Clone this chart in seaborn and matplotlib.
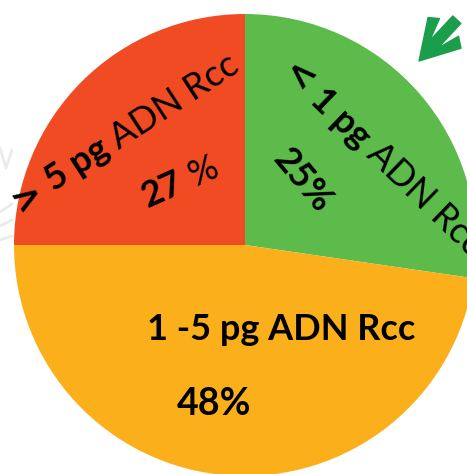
import numpy as np
import matplotlib
matplotlib.use("Agg")
import matplotlib.pyplot as plt
from matplotlib.patches import Polygon
import seaborn as sns

# ---- data (clockwise from 12 o'clock) ----
categories = ["< 1 pg ADN Rcc", "1 -5 pg ADN Rcc", "> 5 pg ADN Rcc"]
labels_pct = ["25%", "48%", "27 %"]
slice_sizes = [27.3, 47.7, 25.0]          # angular shares as drawn
slice_colors = ["#5DBB4B", "#FBB01B", "#F04B23"]

sns.set_theme(style="white")
plt.rcParams["font.family"] = ["Lato", "DejaVu Sans"]

W, H = 467, 474
fig = plt.figure(figsize=(W / 100, H / 100), dpi=100)
ax = fig.add_axes([0, 0, 1, 1])
cx, cy, R = 245.0, 245.0, 231.0  # pixel centre (top-origin) and radius
ax.pie(slice_sizes, colors=slice_colors, startangle=90, counterclock=False,
       radius=1.0, wedgeprops=dict(linewidth=0))
ax.set_xlim((0 - cx) / R, (W - cx) / R)
ax.set_ylim((cy - H) / R, (cy - 0) / R)
ax.set_aspect("auto")
ax.axis("off")

renderer = fig.canvas.get_renderer()


def text_width(s, size, weight, family):
    t = fig.text(0, 0, s, fontsize=size, weight=weight, family=family)
    w = t.get_window_extent(renderer).width
    t.remove()
    return w


def rich(x, y, parts, angle, size):
    """x,y pixels from top-left, baseline start; parts: (text, weight[, family])."""
    px, py = x, H - y
    a = np.deg2rad(angle)
    fam0 = ["Lato", "DejaVu Sans"]
    sp = text_width("a a", size, "normal", fam0) - text_width("aa", size, "normal", fam0)
    for i, part in enumerate(parts):
        s, wgt = part[0], part[1]
        fam = part[2] if len(part) > 2 else fam0
        fig.text(px / W, py / H, s, fontsize=size, weight=wgt, rotation=angle,
                 family=fam, rotation_mode="anchor", ha="left", va="baseline",
                 color="black")
        w = text_width(s, size, wgt, fam)
        if i < len(parts) - 1:
            w += sp
        px += w * np.cos(a)
        py += w * np.sin(a)


SYM = ["DejaVu Sans"]
# > 5 pg ADN Rcc (red)
rich(20, 214, [(">", "bold", SYM), ("5 pg", "bold"), ("ADN Rcc", "normal")], 33, 26)
# 27 %
rich(148, 208, [("27", "bold"), ("%", "normal")], 24, 26)
# < 1 pg ADN Rcc (green)
rich(280, 74, [("<", "bold", SYM), ("1 pg", "bold"), ("ADN Rcc", "normal")], -44, 26)
# 25%
rich(272, 160, [("25%", "bold")], -50, 26)
# 1 -5 pg ADN Rcc (orange)
rich(147, 340, [("1 -5 pg ADN Rcc", "bold")], 0, 26)
# 48%
rich(177, 415, [("48%", "bold")], 0, 27)

# decorative green arrow (top right), drawn in pixel space
tip = np.array([419.0, 61.0])
ang = np.deg2rad(-47)                 # axis from tip toward tail (screen, y down)
u = np.array([np.cos(ang), np.sin(ang)])
v = np.array([-u[1], u[0]])
local = [(0, 0), (38, 22), (45, 12), (22, 5), (56, 5), (56, -6),
         (22, -6), (45, -14), (38, -23)]
pts = [tip + a * u + b * v for a, b in local]
pts = [(p[0], H - p[1]) for p in pts]
fig.patches.append(Polygon(pts, closed=True, transform=None,
                           facecolor="#1B9E4B", edgecolor="#1B9E4B",
                           lw=1, joinstyle="round"))

# faint grey remnants at the left edge
for (x0, y0, x1, y1) in [(0, 148, 6, 168), (6, 168, 12, 150), (0, 212, 12, 204),
                          (0, 226, 12, 220), (0, 240, 12, 236)]:
    fig.add_artist(plt.Line2D([x0, x1], [H - y0, H - y1], transform=None,
                              color="#EBEBEB", lw=2, zorder=0))

fig.savefig("out.png", dpi=100)
